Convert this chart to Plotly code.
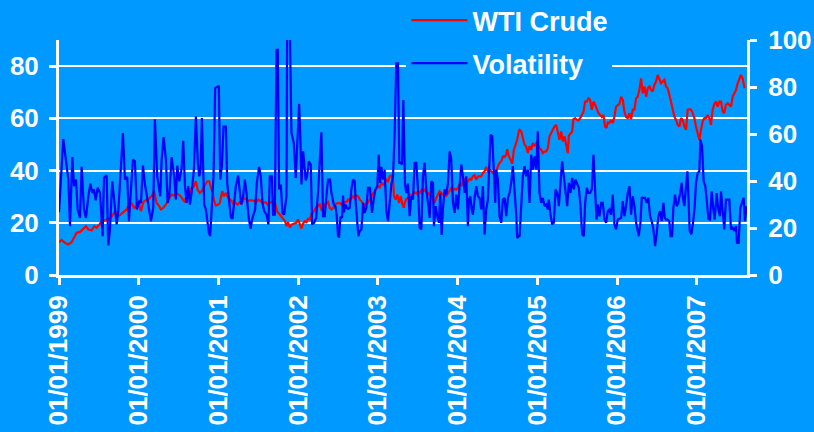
import plotly.graph_objects as go

# ---- data (x = decimal year) ----
wti_year = [
    1999.000, 1999.033, 1999.075, 1999.117, 1999.159, 1999.192, 1999.221, 1999.263, 1999.305, 1999.338,
    1999.368, 1999.409, 1999.443, 1999.472, 1999.505, 1999.535, 1999.576, 1999.618, 1999.660, 1999.702,
    1999.723, 1999.756, 1999.785, 1999.819, 1999.848, 1999.877, 1999.911, 1999.944, 1999.973, 1999.994,
    2000.028, 2000.057, 2000.086, 2000.119, 2000.161, 2000.195, 2000.224, 2000.253, 2000.278, 2000.307,
    2000.341, 2000.370, 2000.412, 2000.445,
    2000.475, 2000.516, 2000.558, 2000.579, 2000.600, 2000.621, 2000.642, 2000.663, 2000.692, 2000.717,
    2000.738, 2000.767, 2000.788, 2000.809, 2000.830, 2000.859, 2000.884, 2000.905, 2000.926, 2000.947,
    2000.967, 2000.997, 2001.018, 2001.047, 2001.068, 2001.093, 2001.122, 2001.151, 2001.185, 2001.214,
    2001.239, 2001.268, 2001.293, 2001.322, 2001.343, 2001.373, 2001.393, 2001.423, 2001.448, 2001.469,
    2001.498, 2001.527, 2001.561, 2001.590, 2001.615, 2001.644, 2001.665, 2001.686, 2001.707, 2001.736,
    2001.761, 2001.790, 2001.811, 2001.836, 2001.853, 2001.874, 2001.895,
    2001.916, 2001.949, 2001.978, 2001.999, 2002.020, 2002.041, 2002.062, 2002.083, 2002.104, 2002.124,
    2002.145, 2002.166, 2002.187, 2002.208, 2002.229, 2002.250, 2002.271, 2002.291, 2002.312, 2002.333,
    2002.354, 2002.375, 2002.396, 2002.417, 2002.438, 2002.459, 2002.479, 2002.500, 2002.521, 2002.542,
    2002.563, 2002.584, 2002.605, 2002.626, 2002.646, 2002.667, 2002.688, 2002.709, 2002.730, 2002.751,
    2002.772, 2002.793, 2002.814, 2002.834, 2002.855, 2002.876, 2002.897, 2002.918, 2002.939, 2002.960,
    2002.981, 2003.002, 2003.022, 2003.043, 2003.064, 2003.085, 2003.106, 2003.127, 2003.148, 2003.169,
    2003.190, 2003.202, 2003.223, 2003.244, 2003.265, 2003.286, 2003.307, 2003.327,
    2003.336, 2003.357, 2003.377, 2003.398, 2003.419, 2003.440, 2003.461, 2003.482, 2003.503, 2003.524,
    2003.545, 2003.565, 2003.586, 2003.607, 2003.628, 2003.649, 2003.670, 2003.691, 2003.712, 2003.732,
    2003.753, 2003.774, 2003.795, 2003.816, 2003.837, 2003.858, 2003.879, 2003.900, 2003.920, 2003.941,
    2003.962, 2003.983, 2004.004, 2004.025, 2004.046, 2004.067, 2004.088, 2004.108, 2004.129, 2004.150,
    2004.171, 2004.192, 2004.213, 2004.234, 2004.255, 2004.275, 2004.296, 2004.317, 2004.338, 2004.359,
    2004.380, 2004.401, 2004.422, 2004.443, 2004.463, 2004.484, 2004.505, 2004.526, 2004.547, 2004.568,
    2004.589, 2004.610, 2004.622, 2004.643, 2004.664, 2004.685, 2004.706, 2004.727, 2004.747, 2004.768,
    2004.777, 2004.798, 2004.818, 2004.839, 2004.860, 2004.881, 2004.902, 2004.923, 2004.944, 2004.965,
    2004.986, 2005.006, 2005.027, 2005.048, 2005.069, 2005.090, 2005.111, 2005.132, 2005.153, 2005.173,
    2005.194, 2005.215, 2005.236, 2005.257, 2005.278, 2005.299, 2005.320, 2005.341, 2005.361, 2005.382,
    2005.395, 2005.416, 2005.437, 2005.453, 2005.474, 2005.495, 2005.516, 2005.537, 2005.558, 2005.579,
    2005.600, 2005.620, 2005.641, 2005.662, 2005.683, 2005.704, 2005.725, 2005.746, 2005.767, 2005.788,
    2005.808, 2005.829, 2005.850, 2005.867, 2005.884, 2005.904, 2005.925, 2005.946, 2005.967, 2005.988,
    2006.009, 2006.030, 2006.051, 2006.072, 2006.092, 2006.113, 2006.134, 2006.155, 2006.176, 2006.197,
    2006.218,
    2006.239, 2006.259, 2006.280, 2006.301, 2006.322, 2006.343, 2006.364, 2006.385, 2006.406, 2006.427,
    2006.447, 2006.468, 2006.489, 2006.510, 2006.531, 2006.552, 2006.573, 2006.594, 2006.614, 2006.635,
    2006.656, 2006.677, 2006.698, 2006.719, 2006.740, 2006.761, 2006.782, 2006.802, 2006.823, 2006.844,
    2006.865, 2006.886, 2006.907, 2006.928, 2006.949, 2006.970, 2006.990, 2007.011, 2007.032, 2007.053,
    2007.074, 2007.095, 2007.116, 2007.137, 2007.157, 2007.178, 2007.199, 2007.220, 2007.241, 2007.262,
    2007.283, 2007.304, 2007.325, 2007.345, 2007.366, 2007.387, 2007.408, 2007.429, 2007.450, 2007.471,
    2007.492, 2007.513, 2007.533, 2007.554, 2007.575, 2007.588, 2007.600,
]
wti_price = [
    12.6, 13.4, 12.3, 11.7, 12.6, 14.3, 16.2, 16.5, 17.7, 18.7,
    17.4, 17.1, 18.7, 18.1, 19.3, 20.6, 21.0, 21.3, 22.3, 24.4,
    23.2, 22.8, 23.5, 24.4, 25.1, 27.0, 27.4, 25.7, 26.3, 28.3,
    24.4, 27.9, 28.6, 28.9, 30.2, 32.1, 27.6, 26.6, 25.1, 25.7,
    27.0, 28.6, 30.8, 30.4,
    31.2, 30.5, 28.9, 27.9, 30.8, 32.7, 31.4, 33.3, 34.0, 35.9,
    32.7, 31.4, 32.1, 33.3, 34.6, 35.9, 35.9, 34.0, 31.4, 28.3,
    26.6, 27.0, 27.6, 32.1, 30.2, 31.4, 29.5, 28.9, 27.4, 27.6,
    27.0, 27.9, 27.4, 29.5, 28.9, 28.3, 28.6, 28.6, 28.3, 27.6,
    28.9, 28.3, 27.6, 27.9, 27.0, 27.6, 27.9, 27.4, 28.0, 24.4,
    23.2, 22.3, 21.5, 20.6, 18.7, 20.2, 18.1,
    19.3, 19.7, 20.0, 21.3, 19.3, 17.8, 19.7, 20.6, 20.2, 21.5,
    21.3, 23.2, 24.1, 25.1, 26.1, 26.3, 27.0, 25.1, 25.7, 27.0,
    27.6, 28.0, 25.7, 25.1, 25.7, 27.0, 27.4, 27.4, 27.6, 27.0,
    27.6, 27.9, 27.9, 28.9, 28.3, 29.5, 30.2, 29.5, 30.4, 30.2,
    28.9, 28.3, 27.6, 26.6, 27.4, 27.6, 28.9, 29.5, 31.2, 32.1,
    32.7, 34.0, 33.3, 35.3, 34.6, 35.3, 36.5, 35.9, 37.8, 38.1,
    36.8, 30.2, 28.9, 30.8, 27.6, 30.2, 27.0, 25.7,
    27.6, 29.1, 29.5, 30.8, 30.5, 30.8, 31.7, 31.2, 32.1, 31.4,
    32.5, 32.1, 32.7, 31.7, 31.4, 30.8, 30.2, 28.9, 27.6, 29.5,
    30.8, 32.1, 31.4, 30.8, 30.2, 30.2, 31.4, 32.7, 33.3, 32.5,
    33.0, 32.7, 33.3, 34.6, 34.2, 35.9, 36.5, 35.0, 35.9, 36.8,
    36.5, 37.8, 38.2, 36.5, 37.8, 37.8, 37.8, 39.1, 39.7, 41.4,
    39.7, 40.3, 39.7, 39.1, 39.1, 39.7, 41.6, 42.9, 43.5, 45.4,
    45.2, 46.1, 48.2, 45.4, 44.2, 42.6, 48.0, 49.9, 51.8, 55.0,
    55.6, 55.0, 51.8, 49.9, 49.3, 46.7, 49.3, 48.0, 50.5, 49.3,
    50.5, 49.9, 48.6, 48.0, 46.7, 47.3, 47.3, 48.6, 53.1, 54.3,
    55.6, 56.9, 57.5, 55.0, 51.8, 55.0, 51.2, 53.1, 49.9, 46.7,
    53.3, 54.3, 55.0, 59.7, 60.1, 59.4, 59.2, 60.1, 61.3, 62.6,
    66.4, 66.4, 67.7, 67.1, 63.3, 66.4, 65.2, 63.3, 62.0, 61.3,
    60.5, 61.3, 56.9, 56.3, 58.4, 58.2, 59.4, 58.2, 60.7, 64.5,
    65.2, 65.5, 68.3, 67.1, 62.6, 60.5, 60.1, 62.0, 59.7, 63.3,
    63.3,
    67.7, 68.3, 70.9, 75.3, 69.6, 72.2, 68.3, 71.5, 72.2, 70.9,
    70.3, 72.8, 74.1, 76.6, 74.7, 73.4, 74.1, 74.7, 72.2, 71.5,
    69.0, 66.4, 63.3, 60.7, 59.4, 57.5, 56.9, 60.1, 59.4, 56.9,
    55.6, 63.3, 63.5, 63.3, 62.0, 60.1, 56.9, 53.7, 51.8, 55.6,
    58.8, 60.1, 60.1, 61.3, 60.1, 57.5, 63.3, 65.5, 66.4, 64.5,
    66.4, 66.4, 62.6, 62.0, 65.2, 65.8, 65.2, 64.5, 68.3, 69.6,
    70.9, 73.4, 75.3, 76.6, 75.3, 72.2, 71.5,
]

vol_year = [
    1999.000, 1999.054, 1999.117, 1999.138, 1999.167, 1999.188, 1999.213, 1999.234, 1999.263, 1999.284,
    1999.313, 1999.338, 1999.368, 1999.393, 1999.418, 1999.439, 1999.460, 1999.485, 1999.514, 1999.535,
    1999.547, 1999.564, 1999.597, 1999.618, 1999.639, 1999.668, 1999.693, 1999.723, 1999.743, 1999.773,
    1999.802, 1999.827, 1999.856, 1999.877, 1999.902, 1999.927, 1999.952, 1999.977, 2000.007, 2000.028,
    2000.053, 2000.078, 2000.103, 2000.128, 2000.153, 2000.182, 2000.203, 2000.232, 2000.270, 2000.287,
    2000.312, 2000.341, 2000.362, 2000.383, 2000.412, 2000.445,
    2000.466, 2000.483, 2000.508, 2000.537, 2000.558, 2000.579, 2000.600, 2000.621, 2000.642, 2000.663,
    2000.692, 2000.717, 2000.742, 2000.759, 2000.775, 2000.792, 2000.809, 2000.821, 2000.842, 2000.863,
    2000.880, 2000.896, 2000.917, 2000.938, 2000.959, 2000.984, 2001.005, 2001.022, 2001.043, 2001.064,
    2001.093, 2001.110, 2001.135, 2001.155, 2001.176, 2001.197, 2001.218, 2001.247, 2001.268, 2001.285,
    2001.310, 2001.331, 2001.352, 2001.377, 2001.402, 2001.427, 2001.460, 2001.481, 2001.510, 2001.531,
    2001.552, 2001.573, 2001.602, 2001.627, 2001.644, 2001.669, 2001.686, 2001.707, 2001.728, 2001.744,
    2001.761, 2001.782, 2001.803, 2001.824, 2001.853, 2001.862, 2001.895,
    2001.916, 2001.945, 2001.970, 2001.991, 2002.012, 2002.028, 2002.041, 2002.062, 2002.083, 2002.095,
    2002.112, 2002.133, 2002.158, 2002.175, 2002.200, 2002.225, 2002.250, 2002.271, 2002.291, 2002.312,
    2002.333, 2002.354, 2002.375, 2002.400, 2002.417, 2002.446, 2002.467, 2002.484, 2002.500, 2002.513,
    2002.530, 2002.550, 2002.563, 2002.575, 2002.592, 2002.609, 2002.626, 2002.646, 2002.667, 2002.688,
    2002.709, 2002.722, 2002.738, 2002.755, 2002.772, 2002.793, 2002.814, 2002.834, 2002.855, 2002.876,
    2002.901, 2002.926, 2002.947, 2002.968, 2002.993, 2003.010, 2003.027, 2003.043, 2003.064, 2003.085,
    2003.106, 2003.127, 2003.148, 2003.169, 2003.190, 2003.210, 2003.231, 2003.252, 2003.269, 2003.286,
    2003.302, 2003.319,
    2003.340, 2003.357, 2003.377, 2003.398, 2003.419, 2003.440, 2003.461, 2003.482, 2003.503, 2003.524,
    2003.545, 2003.565, 2003.586, 2003.607, 2003.628, 2003.649, 2003.670, 2003.691, 2003.703, 2003.724,
    2003.745, 2003.766, 2003.783, 2003.799, 2003.816, 2003.837, 2003.858, 2003.879, 2003.900, 2003.920,
    2003.941, 2003.962, 2003.983, 2004.004, 2004.025, 2004.046, 2004.067, 2004.088, 2004.108, 2004.129,
    2004.142, 2004.159, 2004.179, 2004.192, 2004.213, 2004.234, 2004.255, 2004.275, 2004.296, 2004.317,
    2004.338, 2004.359, 2004.380, 2004.401, 2004.413, 2004.434, 2004.455, 2004.472, 2004.484, 2004.505,
    2004.526, 2004.547, 2004.568, 2004.589, 2004.610, 2004.631, 2004.651, 2004.672, 2004.693, 2004.714,
    2004.735, 2004.747, 2004.768,
    2004.777, 2004.798, 2004.818, 2004.839, 2004.860, 2004.881, 2004.902, 2004.923, 2004.944, 2004.965,
    2004.986, 2005.006, 2005.027, 2005.048, 2005.069, 2005.090, 2005.111, 2005.132, 2005.144, 2005.165,
    2005.186, 2005.207, 2005.228, 2005.249, 2005.270, 2005.290, 2005.311, 2005.332, 2005.353, 2005.374,
    2005.395, 2005.416, 2005.437, 2005.457, 2005.478, 2005.499, 2005.520, 2005.541, 2005.562, 2005.583,
    2005.600, 2005.620, 2005.641, 2005.662, 2005.683, 2005.704, 2005.725, 2005.742, 2005.758, 2005.779,
    2005.800, 2005.821, 2005.842, 2005.863, 2005.884, 2005.904, 2005.925, 2005.946, 2005.967, 2005.988,
    2006.009, 2006.030, 2006.051, 2006.072, 2006.092, 2006.113, 2006.134, 2006.155, 2006.176, 2006.197,
    2006.218,
    2006.239, 2006.272, 2006.293, 2006.310, 2006.330, 2006.351, 2006.372, 2006.393, 2006.414, 2006.435,
    2006.456, 2006.477, 2006.498, 2006.518, 2006.539, 2006.560, 2006.581, 2006.598, 2006.614, 2006.635,
    2006.656, 2006.669, 2006.690, 2006.706, 2006.727, 2006.748, 2006.769, 2006.790, 2006.811, 2006.823,
    2006.844, 2006.865, 2006.882, 2006.898, 2006.911, 2006.932, 2006.953, 2006.974, 2006.990, 2007.011,
    2007.032, 2007.045, 2007.066, 2007.086, 2007.107, 2007.128, 2007.145, 2007.166, 2007.187, 2007.208,
    2007.224, 2007.249, 2007.270, 2007.291, 2007.304, 2007.325, 2007.345, 2007.366, 2007.387, 2007.408,
    2007.429, 2007.450, 2007.471, 2007.492, 2007.504, 2007.525, 2007.546, 2007.567, 2007.588, 2007.604,
    2007.625,
]
vol_value = [
    26.7, 57.8, 40.6, 20.8, 50.2, 37.8, 40.6, 27.9, 24.3, 46.0,
    27.9, 24.3, 33.5, 38.9, 34.9, 36.4, 31.8, 37.2, 34.9, 20.8,
    16.5, 41.4, 42.4, 12.6, 19.4, 39.9, 30.7, 21.5, 26.9, 42.0,
    60.4, 40.6, 41.7, 22.9, 37.8, 49.1, 48.4, 27.9, 31.4, 30.7,
    46.7, 38.5, 33.5, 27.2, 22.9, 28.6, 66.3, 42.0, 33.5, 49.1,
    58.7, 49.1, 30.7, 33.5, 50.1, 42.0,
    32.1, 46.5, 39.9, 44.8, 57.1, 38.5, 30.7, 37.8, 30.0, 34.9,
    44.8, 67.5, 47.7, 42.0, 44.1, 66.8, 42.0, 30.0, 27.9, 22.2,
    18.0, 16.5, 32.1, 42.0, 79.5, 79.9, 80.5, 40.6, 46.3, 63.2,
    63.2, 39.2, 30.7, 24.6, 23.9, 32.1, 37.8, 42.3, 36.4, 30.0,
    33.5, 40.6, 34.9, 25.0, 19.7, 24.3, 27.9, 39.2, 46.0, 42.0,
    30.7, 27.2, 25.7, 21.5, 42.0, 42.0, 25.7, 25.7, 95.8, 95.8,
    36.4, 38.5, 26.4, 25.7, 33.5, 105.0, 105.0,
    60.4, 56.2, 41.3, 57.6, 72.8, 57.6, 38.5, 52.6, 46.3, 40.3,
    42.0, 48.4, 47.0, 21.5, 22.2, 24.3, 35.6, 47.7, 60.7, 25.0,
    25.0, 33.5, 40.6, 40.6, 34.9, 30.0, 29.3, 25.0, 16.5, 16.3,
    24.8, 24.3, 33.8, 26.7, 30.0, 28.6, 28.1, 28.6, 36.4, 40.6,
    39.9, 30.7, 25.0, 16.5, 18.7, 19.4, 30.7, 26.4, 28.6, 37.1,
    37.1, 26.4, 32.1, 36.4, 37.8, 51.2, 39.2, 46.0, 40.6, 44.8,
    27.2, 22.9, 30.7, 38.5, 42.0, 60.4, 90.1, 90.1, 47.7, 47.7,
    47.0, 74.5,
    38.5, 34.9, 38.9, 25.0, 33.5, 32.1, 47.7, 47.7, 36.4, 20.1,
    19.4, 42.0, 47.7, 36.4, 30.7, 24.3, 39.9, 39.2, 20.8, 29.3,
    25.0, 22.2, 34.9, 17.0, 27.9, 36.4, 34.2, 39.2, 52.6, 49.1,
    30.7, 26.4, 34.2, 27.9, 37.8, 47.0, 42.0, 34.9, 42.0, 20.8,
    32.1, 33.5, 27.2, 25.7, 32.8, 37.8, 33.5, 32.8, 27.9, 37.8,
    17.3, 27.9, 32.1, 46.3, 59.7, 59.0, 42.0, 30.7, 44.8, 40.6,
    25.0, 22.2, 32.1, 32.8, 25.0, 32.8, 34.9, 39.2, 46.3, 36.4,
    25.7, 15.8, 16.5,
    16.3, 30.7, 42.0, 46.3, 42.0, 44.8, 30.7, 51.2, 44.8, 50.5,
    44.8, 61.1, 34.9, 30.7, 32.8, 29.3, 30.0, 27.9, 32.1, 25.7,
    21.5, 22.2, 36.4, 34.9, 29.3, 39.2, 48.4, 42.0, 36.4, 29.3,
    39.2, 34.9, 41.3, 36.4, 40.6, 38.5, 37.1, 29.3, 17.3, 16.5,
    30.7, 37.1, 34.9, 34.9, 36.4, 51.2, 32.1, 23.6, 30.0, 25.0,
    30.7, 30.7, 23.6, 22.2, 27.2, 27.9, 25.7, 34.2, 21.5, 19.4,
    23.6, 23.9, 24.3, 31.4, 25.0, 29.3, 34.9, 37.8, 25.7, 33.5,
    29.3,
    22.2, 16.5, 22.2, 32.8, 32.8, 32.8, 30.7, 32.8, 25.0, 22.9,
    19.4, 12.3, 18.0, 25.0, 27.2, 22.9, 30.7, 24.3, 23.6, 23.6,
    22.9, 16.5, 16.5, 28.6, 34.2, 29.3, 30.7, 34.2, 39.2, 33.5,
    29.3, 37.8, 44.1, 30.7, 18.7, 17.3, 22.2, 29.3, 39.2, 43.4,
    44.1, 57.6, 54.7, 39.9, 37.8, 30.7, 23.9, 23.6, 35.6, 27.9,
    23.6, 34.9, 27.9, 25.0, 35.6, 27.2, 19.4, 32.1, 32.1, 32.1,
    19.4, 20.1, 18.7, 20.8, 13.7, 13.7, 28.6, 30.7, 32.8, 22.9,
    29.3,
]

tick_years = [1999, 2000, 2001, 2002, 2003, 2004, 2005, 2006, 2007]
tick_labels = ["01/01/1999", "01/01/2000", "01/01/2001", "01/01/2002", "01/01/2003",
               "01/01/2004", "01/01/2005", "01/01/2006", "01/01/2007"]
left_ticks = [0, 20, 40, 60, 80]
right_ticks = [0, 20, 40, 60, 80, 100]

BG = "#0099FF"
WHITE = "#FFFFFF"
FAMILY = "Liberation Sans, Arial, sans-serif"
FONT = dict(family=FAMILY, size=27, color=WHITE, weight="bold")
TFONT = dict(family=FAMILY, size=26, color=WHITE, weight="bold")

fig = go.Figure()
fig.add_trace(go.Scatter(x=wti_year, y=wti_price, name="WTI Crude", mode="lines",
                         legendgroup="wti", line=dict(color="#FF0000", width=2.2), yaxis="y"))
fig.add_trace(go.Scatter(x=vol_year, y=vol_value, name="Volatility", mode="lines",
                         legendgroup="vol", line=dict(color="#0000FF", width=2.2), yaxis="y2"))

axis_common = dict(showline=True, linecolor=WHITE, linewidth=3, ticks="outside",
                   ticklen=7, tickwidth=3, tickcolor=WHITE, zeroline=False)

fig.update_layout(
    width=814, height=432,
    margin=dict(l=59, r=67, t=40, b=157, autoexpand=False),
    paper_bgcolor=BG, plot_bgcolor=BG,
    font=FONT,
    showlegend=True,
    legend=dict(x=0.505, y=1.187, xanchor="left", yanchor="top", bgcolor=BG,
                borderwidth=0, font=FONT, itemwidth=56, tracegroupgap=5),
    xaxis=dict(range=[1999.0, 2007.63], tickmode="array", tickvals=tick_years,
               ticktext=tick_labels, tickangle=-90, showgrid=False, tickfont=TFONT,
               **axis_common),
    yaxis=dict(range=[0, 90], tickmode="array", tickvals=left_ticks, showgrid=True,
               gridcolor=WHITE, gridwidth=2, ticklabelstandoff=5, tickfont=TFONT,
               **axis_common),
    yaxis2=dict(range=[0, 100], tickmode="array", tickvals=right_ticks, overlaying="y",
                side="right", showgrid=False, ticklabelstandoff=6, tickfont=TFONT,
                **axis_common),
)

fig.write_html("out.html", config={"displayModeBar": False},
               post_script="document.body.style.margin='0';document.body.style.overflow='hidden';")
